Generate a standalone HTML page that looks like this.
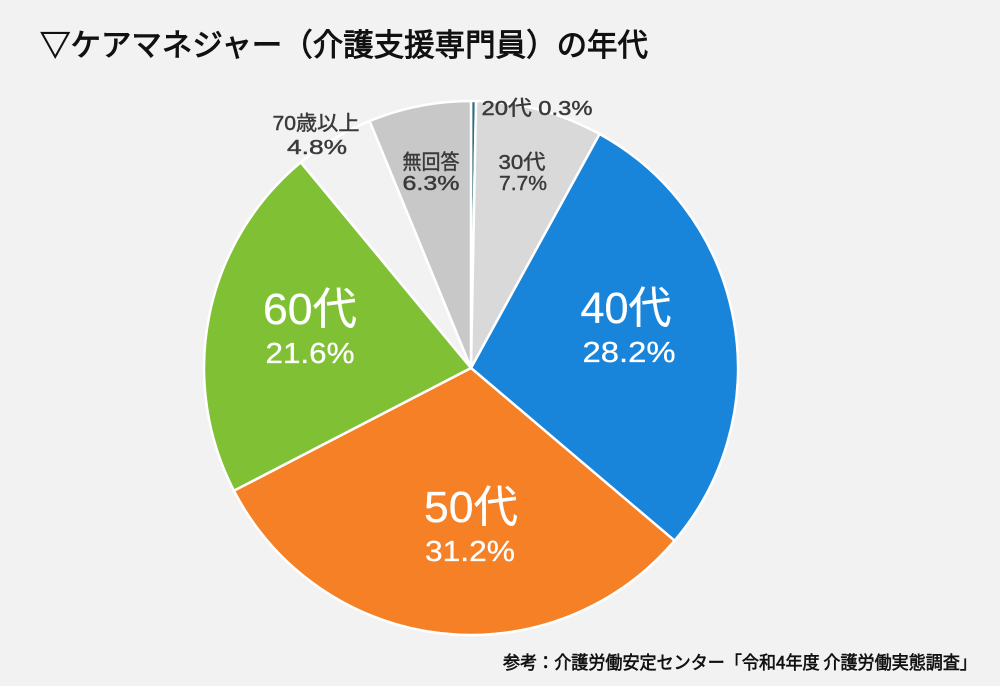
<!DOCTYPE html>
<html>
<head>
<meta charset="utf-8">
<style>
html,body{margin:0;padding:0;background:#f2f2f2;}
svg{display:block;}
text{font-family:"Liberation Sans","Noto Sans CJK JP",sans-serif;}
</style>
</head>
<body>
<svg width="1000" height="686" viewBox="0 0 1000 686" xmlns="http://www.w3.org/2000/svg">
<rect width="1000" height="686" fill="#f2f2f2"/>
<text x="40" y="56" font-size="31" font-weight="normal" fill="#111" stroke="#111" stroke-width="0.9" textLength="608" lengthAdjust="spacingAndGlyphs" style="font-family:'Noto Sans CJK JP',sans-serif;">▽ケアマネジャー（介護支援専門員）の年代</text>

<g stroke="#ffffff" stroke-width="2.5" stroke-linejoin="round">
<path d="M471,368 L471,101 A267,267 0 0 1 476.03,101.05 Z" fill="#2f6d80"/>
<path d="M471,368 L476.03,101.05 A267,267 0 0 1 599.6,134.0 Z" fill="#d9d9d9"/>
<path d="M471,368 L599.6,134.0 A267,267 0 0 1 674.6,540.7 Z" fill="#1884da"/>
<path d="M471,368 L674.6,540.7 A267,267 0 0 1 233.9,490.7 Z" fill="#f58025"/>
<path d="M471,368 L233.9,490.7 A267,267 0 0 1 300.8,162.3 Z" fill="#80c034"/>
<path d="M471,368 L300.8,162.3 A267,267 0 0 1 369.6,121.0 Z" fill="#f2f2f2"/>
<path d="M471,368 L369.6,121.0 A267,267 0 0 1 471,101 Z" fill="#c8c8c8"/>
</g>

<g fill="#ffffff" stroke="#ffffff" stroke-width="0.3" text-anchor="middle">
<text x="626" y="323" font-size="44" textLength="91" lengthAdjust="spacingAndGlyphs">40代</text>
<text x="629" y="362" font-size="29" textLength="93" lengthAdjust="spacingAndGlyphs">28.2%</text>
<text x="310" y="324" font-size="44" textLength="94" lengthAdjust="spacingAndGlyphs">60代</text>
<text x="310" y="363" font-size="29" textLength="89" lengthAdjust="spacingAndGlyphs">21.6%</text>
<text x="471" y="522" font-size="44" textLength="94" lengthAdjust="spacingAndGlyphs">50代</text>
<text x="470" y="561" font-size="29" textLength="90" lengthAdjust="spacingAndGlyphs">31.2%</text>
</g>

<g fill="#3a3a3a" stroke="#3a3a3a" stroke-width="0.45" text-anchor="middle">
<text x="316" y="130" font-size="20.5" textLength="87" lengthAdjust="spacingAndGlyphs">70歳以上</text>
<text x="317" y="154" font-size="20.5" textLength="60" lengthAdjust="spacingAndGlyphs">4.8%</text>
<text x="431" y="169" font-size="20.5" textLength="57" lengthAdjust="spacingAndGlyphs">無回答</text>
<text x="431" y="190" font-size="20.5" textLength="57" lengthAdjust="spacingAndGlyphs">6.3%</text>
<text x="522" y="169" font-size="20.5" textLength="47" lengthAdjust="spacingAndGlyphs">30代</text>
<text x="523" y="190" font-size="20.5" textLength="48" lengthAdjust="spacingAndGlyphs">7.7%</text>
<text x="537" y="115" font-size="20.5" textLength="111" lengthAdjust="spacingAndGlyphs">20代 0.3%</text>
</g>

<text x="503" y="669" font-size="18" font-weight="normal" fill="#111" stroke="#111" stroke-width="0.6" textLength="474" lengthAdjust="spacingAndGlyphs" style="font-family:'Noto Sans CJK JP',sans-serif;">参考：介護労働安定センター「令和4年度 介護労働実態調査」</text>
</svg>
</body>
</html>
